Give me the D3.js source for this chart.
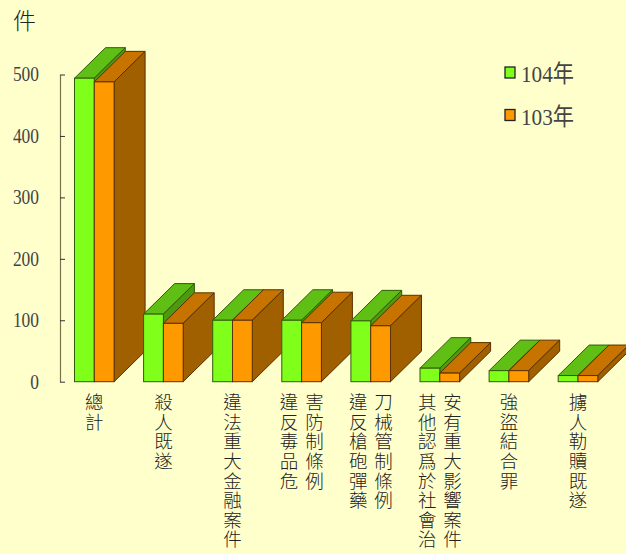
<!DOCTYPE html>
<html>
<head>
<meta charset="utf-8">
<script src="https://cdn.jsdelivr.net/npm/d3@7"></script>
<style>
html, body { margin: 0; padding: 0; background: #ffffcc; overflow: hidden; }
svg { display: block; }
.lab { font-family: "Noto Sans CJK TC", sans-serif; font-size: 18.5px; font-weight: 300; fill: #222; writing-mode: vertical-rl; letter-spacing: 1.1px; }
.num { font-family: "Liberation Serif", serif; fill: #444; }
</style>
</head>
<body>
<script>
var categories = ["總計", "殺人既遂", "違法重大金融案件", "違反毒品危害防制條例", "違反槍砲彈藥刀械管制條例", "其他認爲於社會治安有重大影響案件", "強盜結合罪", "擄人勒贖既遂"];
// label columns, a long name is wrapped in two
var labelLines = [["總計"], ["殺人既遂"], ["違法重大金融案件"], ["違反毒品危", "害防制條例"], ["違反槍砲彈藥", "刀械管制條例"], ["其他認爲於社會治", "安有重大影響案件"], ["強盜結合罪"], ["擄人勒贖既遂"]];
var seriesNames = ["104年", "103年"];
var values104 = [494, 110, 100, 100, 99, 22, 18, 10];
var values103 = [488, 95, 100, 96, 91, 14, 18, 10];
var tickValues = [0, 100, 200, 300, 400, 500];

var w = 626;
var h = 554;
var depthX = 31;
var depthY = 30.5;

var colors = [
    {front: "#80ff1a", top: "#60bf14", side: "#4d9910", line: "#2f5c0a"},
    {front: "#ff9900", top: "#c67300", side: "#a06000", line: "#5c3000"}
];

var svg = d3.select("body").append("svg").attr("width", w).attr("height", h);

svg.append("rect").attr("width", w).attr("height", h).attr("fill", "#ffffcc");

var x = d3.scaleBand().domain(categories).range([74.5, 597.8]).paddingInner(0.427).paddingOuter(0);
var xs = d3.scaleBand().domain(seriesNames).range([0, x.bandwidth()]);
var y = d3.scaleLinear().domain([0, 500]).range([381.7, 74.5]);

function barFaces(g, name, value, s) {
    var x0 = xs(name);
    var x1 = x0 + xs.bandwidth();
    var yb = y(0);
    var yt = y(value);
    var c = colors[s];

    g.append("path")
        .attr("d", "M" + x0 + "," + yt + "L" + (x0 + depthX) + "," + (yt - depthY) + "L" + (x1 + depthX) + "," + (yt - depthY) + "L" + x1 + "," + yt + "Z")
        .attr("fill", c.top).attr("stroke", c.line);
    g.append("path")
        .attr("d", "M" + x1 + "," + yt + "L" + (x1 + depthX) + "," + (yt - depthY) + "L" + (x1 + depthX) + "," + (yb - depthY) + "L" + x1 + "," + yb + "Z")
        .attr("fill", c.side).attr("stroke", c.line);
    g.append("rect")
        .attr("x", x0).attr("y", yt).attr("width", xs.bandwidth()).attr("height", yb - yt)
        .attr("fill", c.front).attr("stroke", c.line);
}

var groups = svg.selectAll("g.cat")
    .data(categories)
    .enter()
    .append("g")
    .attr("class", "cat")
    .attr("transform", function(d) { return "translate(" + x(d) + ",0)"; });

groups.each(function(d, i) {
    var g = d3.select(this);
    barFaces(g, seriesNames[0], values104[i], 0);
    barFaces(g, seriesNames[1], values103[i], 1);
});

// y axis, ticks point inwards and labels stay on the left
var axis = svg.append("g")
    .attr("transform", "translate(60,0)")
    .call(d3.axisLeft(y).tickValues(tickValues).tickSizeInner(-5).tickSizeOuter(0).tickPadding(21));
axis.select(".domain").attr("stroke", "#7a7350").attr("stroke-width", 1.2);
axis.selectAll(".tick line").attr("stroke", "#333");
axis.selectAll(".tick text")
    .attr("class", "num")
    .style("font-size", "20px")
    .attr("textLength", function(d) { return String(d).length * 8.7; })
    .attr("lengthAdjust", "spacingAndGlyphs");

// category labels
groups.each(function(d, i) {
    var cols = labelLines[i];
    d3.select(this).selectAll("text.lab")
        .data(cols)
        .enter()
        .append("text")
        .attr("class", "lab")
        .attr("x", function(t, k) { return x.bandwidth() / 2 + (cols.length == 2 ? (k == 0 ? -12.5 : 12.8) : 0); })
        .attr("y", 393)
        .text(function(t) { return t; });
});

svg.append("text")
    .attr("x", 13).attr("y", 29)
    .style("font-family", '"Noto Sans CJK TC", sans-serif')
    .style("font-size", "23px").style("font-weight", 300).attr("fill", "#222")
    .text("件");

// legend
var legend = svg.selectAll("g.leg")
    .data(seriesNames)
    .enter()
    .append("g")
    .attr("class", "leg")
    .attr("transform", function(d, i) { return "translate(505," + (67 + i * 42.5) + ")"; });
legend.append("rect")
    .attr("width", 10).attr("height", 11)
    .attr("fill", function(d, i) { return colors[i].front; })
    .attr("stroke", "#222").attr("stroke-width", 1.3);
legend.append("text")
    .attr("class", "num")
    .attr("x", 16).attr("y", 15)
    .style("font-family", '"Liberation Serif", "Noto Sans CJK TC", serif')
    .style("font-size", "24px")
    .attr("textLength", 53)
    .attr("lengthAdjust", "spacingAndGlyphs")
    .text(function(d) { return d; });
</script>
</body>
</html>
